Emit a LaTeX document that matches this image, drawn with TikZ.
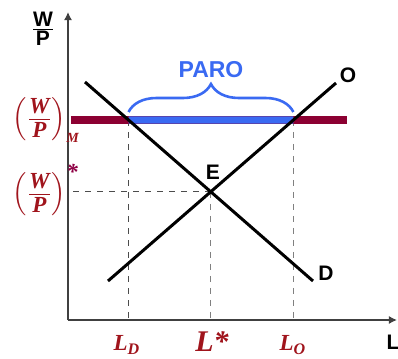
\documentclass[tikz,border=0pt]{standalone}
\usepackage{amsmath}
\usepackage{fontspec}
\setmainfont{Liberation Sans}
\newfontfamily\serifbold{Liberation Serif}
\usetikzlibrary{arrows.meta, calc, decorations.pathreplacing}
\definecolor{wine}{HTML}{8C0032}
\definecolor{darkred}{HTML}{A0141C}
\definecolor{starred}{HTML}{8E0044}
\definecolor{paroblue}{HTML}{3A6AF2}
\newcommand{\wpfrac}{\tfrac{\raisebox{1.5pt}{W}}{\raisebox{-2pt}{P}}}
\tikzset{
  axis/.style={-{Latex[length=4pt, width=4pt]}, line width=0.7pt, black!75},
  curve/.style={line width=1.5pt, black},
  guide/.style={dashed, line width=0.6pt, black!70},
  guidegrey/.style={guide, black!50},
  wagebar/.style={line width=3.6pt, wine},
  gapbar/.style={line width=3.6pt, paroblue},
  brace/.style={decorate, decoration={brace, amplitude=14pt, raise=0pt},
    line width=1.3pt, paroblue},
  curvelabel/.style={font=\bfseries\fontsize{10.5}{12}\selectfont},
  redlabel/.style={text=darkred, font=\serifbold\bfseries\itshape\fontsize{11.5}{14}\selectfont},
}
\begin{document}
\begin{tikzpicture}[x=0.5pt, y=-0.5pt]
\useasboundingbox (0,0) rectangle (398,359);
% axes
\coordinate (orig) at (68,320);
\coordinate (ytop) at (68,12);
\coordinate (xend) at (397,320);
\draw[axis] (orig) -- (ytop);
\draw[axis] (orig) -- (xend);
\node[font=\bfseries\fontsize{10.5}{12}\selectfont] (wp) at (43,29)
  {$\tfrac{\mbox{W}}{\mbox{P}}$};
\node[curvelabel] (lab) at (393,342) {L};
% supply and demand
\coordinate (d1) at (85,82);
\coordinate (d2) at (313,281);
\coordinate (o1) at (108,281);
\coordinate (o2) at (336,83);
\coordinate (wm1) at (71,120);
\coordinate (wm2) at (347,120);
\coordinate (E) at (intersection of d1--d2 and o1--o2);
\coordinate (LD) at (intersection of d1--d2 and wm1--wm2);
\coordinate (LO) at (intersection of o1--o2 and wm1--wm2);
% guides
\draw[guide] (LD) -- (LD |- orig);
\draw[guidegrey] (E) -- (E |- orig);
\draw[guidegrey] (LO) -- (LO |- orig);
\draw[guide] (E) -- (E -| orig);
% minimum wage
\draw[wagebar] (wm1) -- (wm2);
\draw[gapbar] (LD) -- (LO);
\draw[curve] (d1) -- (d2);
\draw[curve] (o1) -- (o2);
\draw[brace] ($(LD)+(0,-8)$) -- ($(LO)+(0,-8)$);
\node[text=paroblue, font=\bfseries\fontsize{11.5}{13}\selectfont] (paro) at (211,70) {PARO};
% labels
\node[curvelabel] (elab) at (213,172) {E};
\node[curvelabel] (olab) at (348,75) {O};
\node[curvelabel] (dlab) at (326,273) {D};
\node[redlabel, anchor=west, inner sep=0pt] (wpm) at (12,120)
  {$\Bigl(\wpfrac\Bigr)_{\mbox{\scriptsize M}}$};
\node[redlabel, anchor=west, inner sep=0pt] (wps) at (12,190)
  {$\Bigl(\wpfrac\Bigr)^{\mbox{\textcolor{starred}{*}}}$};
\node[redlabel] (ld) at (127,345) {$\text{L}_{\text{D}}$};
\node[redlabel, font=\serifbold\bfseries\itshape\fontsize{15}{17}\selectfont] (ls) at (212,342) {L*};
\node[redlabel] (lo) at (293,345) {$\text{L}_{\text{O}}$};
\end{tikzpicture}
\end{document}
